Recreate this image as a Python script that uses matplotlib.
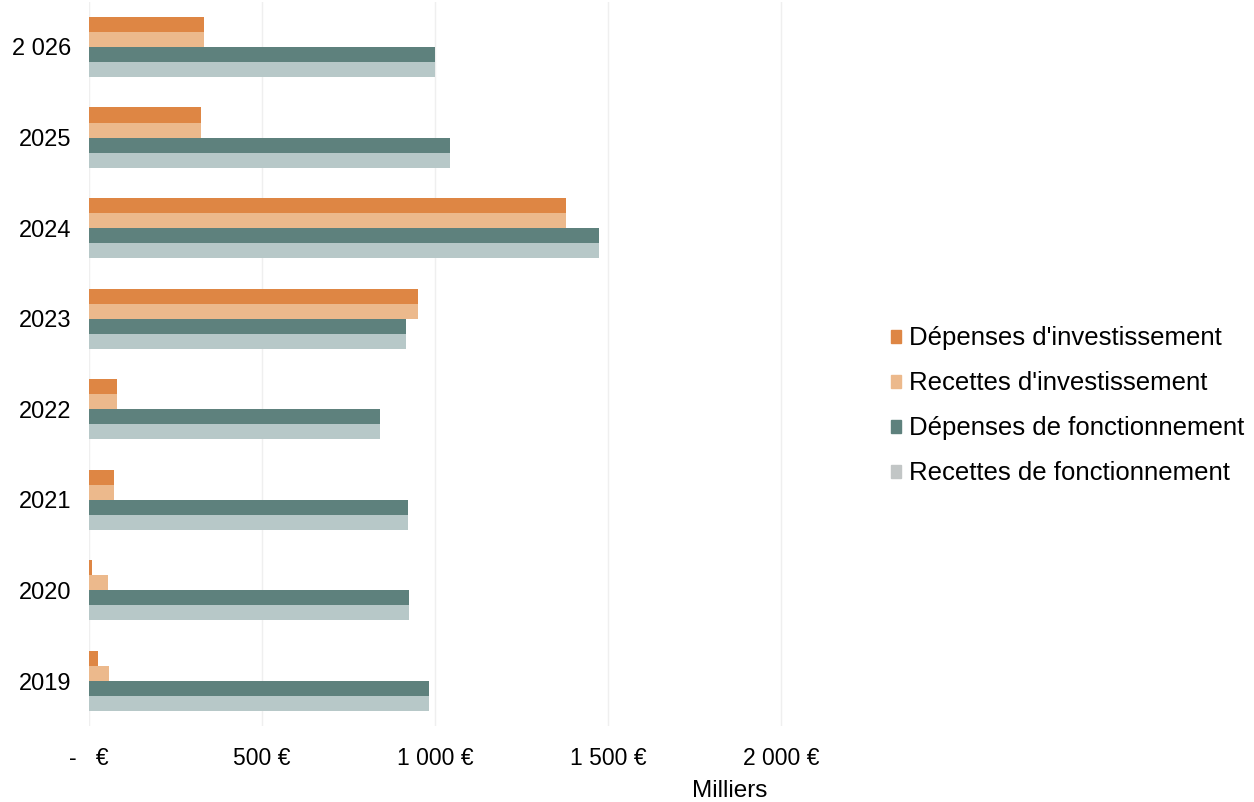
"""
Budget communal : dépenses et recettes par année (en milliers d'euros)
"""
import matplotlib.pyplot as plt
import numpy as np
from matplotlib.patches import Patch

plt.rcParams["font.family"] = ["Liberation Sans", "DejaVu Sans"]

annees = ["2019", "2020", "2021", "2022", "2023", "2024", "2025", "2 026"]
depenses_invest = [27, 8, 71, 80, 949, 1379, 323, 331]
recettes_invest = [59, 54, 71, 80, 949, 1379, 323, 331]
depenses_fonct = [981, 923, 920, 840, 917, 1472, 1043, 1000]
recettes_fonct = [981, 923, 920, 840, 917, 1472, 1043, 1000]

series = [
    ("Dépenses d'investissement", depenses_invest, "#DE8644"),
    ("Recettes d'investissement", recettes_invest, "#ECB98C"),
    ("Dépenses de fonctionnement", depenses_fonct, "#5E817D"),
    ("Recettes de fonctionnement", recettes_fonct, "#B7C8C8"),
]
legend_colors = ["#DE8644", "#ECB98C", "#5E817D", "#C2C6C6"]

ticks = [0, 500, 1000, 1500, 2000]
tick_labels = ["-   €", "500 €", "1 000 €", "1 500 €", "2 000 €"]

fig = plt.figure(figsize=(12.54, 8.02), dpi=100)
ax = fig.add_axes([0.071, 0.0944, 0.5535, 0.9035])

y = np.arange(len(annees))
h = 0.166
offsets = [1.5 * h, 0.5 * h, -0.5 * h, -1.5 * h]
for (label, values, color), off in zip(series, offsets):
    ax.barh(y + off, values, height=h, color=color, label=label)

ax.set_ylim(-0.5, len(annees) - 0.5)
ax.set_xlim(0, 2005)
ax.set_yticks(y)
ax.set_yticklabels(annees, fontsize=17)
ax.set_xticks(ticks)
ax.set_xticklabels(tick_labels, fontsize=16.5)
ax.tick_params(axis="y", length=0, pad=13)
ax.tick_params(axis="x", length=0, pad=15)
ax.grid(axis="x", color="#EFEFEF", linewidth=1)
ax.set_axisbelow(True)
for s in ax.spines.values():
    s.set_visible(False)

fig.text(0.582, 0.0, "Milliers", fontsize=17.5, ha="center", va="bottom")

handles = [Patch(color=c) for c in legend_colors]
fig.legend(handles, [s[0] for s in series], loc="center left",
           bbox_to_anchor=(0.7, 0.494), frameon=False, fontsize=18.5,
           handlelength=0.4, handleheight=0.4, handletextpad=0.3,
           labelspacing=0.82, borderpad=0)

fig.savefig("out.png", dpi=100)
